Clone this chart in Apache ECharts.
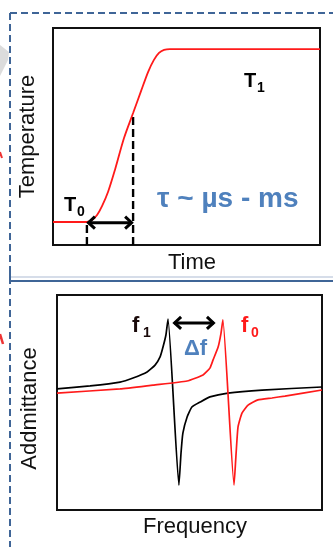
<!DOCTYPE html>
<html>
<head>
<meta charset="utf-8">
<script src="https://cdn.jsdelivr.net/npm/echarts@6/dist/echarts.min.js"></script>
<style>
  html, body { margin: 0; padding: 0; background: #ffffff; }
  #chart { width: 333px; height: 547px; }
</style>
</head>
<body>
<div id="chart"></div>
<script>
// ---- Thermal step: temperature rise over time ----
const timePts = [0, 12.7, 14.6, 16.5, 18.4, 20.6, 23.2, 26.6, 30.0, 33.0, 35.6, 37.8, 39.7, 41.6, 43.8, 100];
const tempPts = [10.6, 10.6, 11.5, 13.8, 18.0, 24.4, 34.6, 49.3, 60.8, 71.0, 79.7, 85.3, 88.5, 89.9, 90.3, 90.3];
const tauStart = 12.7;
const tauEnd = 30.0;
const tempAtTauStart = 10.6;
const tempAtTauEnd = 60.8;
const tauArrowLevel = 10.3;

// ---- Resonance: admittance around f1 (heated) and f0 (reference) ----
const freqF1 = [0, 12.5, 23.8, 28.7, 34.0, 37.0, 38.9, 40.0, 41.1, 41.9, 46.0, 46.8, 47.5, 49.1, 50.9, 54.0, 57.7, 64.5, 77.4, 100];
const admF1  = [56.3, 57.7, 59.5, 61.4, 64.2, 67.4, 71.2, 75.8, 81.4, 88.8, 11.6, 26.5, 35.8, 43.3, 47.9, 50.2, 52.6, 54.4, 55.8, 57.2];
const freqF0 = [0, 23.8, 36.2, 49.1, 55.1, 57.7, 58.9, 60.8, 61.9, 62.6, 66.8, 67.5, 68.3, 69.8, 72.1, 75.8, 81.1, 86.0, 100];
const admF0  = [54.4, 56.3, 58.1, 60.0, 62.8, 66.0, 69.8, 75.8, 82.3, 88.4, 11.6, 24.7, 38.6, 45.1, 48.8, 51.2, 52.1, 53.0, 55.8];
const shiftArrow = [43.8, 59.6, 87.0];

const pairs = (xs, ys) => xs.map((x, i) => [x, ys[i]]);

const FONT = '"Liberation Sans", Arial, sans-serif';
const FRAME = '#3f6597';

// double-headed arrow between two x values at one y value
function arrowItem(params, api) {
  const a = api.coord([api.value(0), api.value(2)]);
  const b = api.coord([api.value(1), api.value(2)]);
  const h = 8;
  const st = { stroke: '#000', lineWidth: 3, fill: null, lineJoin: 'miter' };
  return {
    type: 'group',
    children: [
      { type: 'line', shape: { x1: a[0] + 1, y1: a[1], x2: b[0] - 1, y2: b[1] }, style: st },
      { type: 'polyline', shape: { points: [[a[0] + h, a[1] - h * 0.75], [a[0] + 1.5, a[1]], [a[0] + h, a[1] + h * 0.75]] }, style: st },
      { type: 'polyline', shape: { points: [[b[0] - h, b[1] - h * 0.75], [b[0] - 1.5, b[1]], [b[0] - h, b[1] + h * 0.75]] }, style: st }
    ]
  };
}

const hiddenAxis = {
  type: 'value', min: 0, max: 100,
  axisLine: { show: false }, axisTick: { show: false },
  axisLabel: { show: false }, splitLine: { show: false },
  nameLocation: 'middle',
  nameTextStyle: { fontFamily: FONT, fontSize: 22, color: '#111' }
};

const chart = echarts.init(document.getElementById('chart'), null, { renderer: 'canvas' });

chart.setOption({
  animation: false,
  backgroundColor: '#ffffff',
  grid: [
    { left: 53, top: 28, width: 267, height: 217, show: true, borderColor: '#111', borderWidth: 2, backgroundColor: 'transparent' },
    { left: 57, top: 295, width: 265, height: 215, show: true, borderColor: '#111', borderWidth: 2, backgroundColor: 'transparent' }
  ],
  xAxis: [
    Object.assign({}, hiddenAxis, { gridIndex: 0, name: 'Time', nameGap: 7,
      nameTextStyle: Object.assign({}, hiddenAxis.nameTextStyle, { padding: [0, 0, 0, 11] }) }),
    Object.assign({}, hiddenAxis, { gridIndex: 1, name: 'Frequency', nameGap: 6,
      nameTextStyle: Object.assign({}, hiddenAxis.nameTextStyle, { padding: [0, 0, 0, 11] }) })
  ],
  yAxis: [
    Object.assign({}, hiddenAxis, { gridIndex: 0, name: 'Temperature', nameGap: 14 }),
    Object.assign({}, hiddenAxis, { gridIndex: 1, name: 'Addmittance', nameGap: 16,
      nameTextStyle: Object.assign({}, hiddenAxis.nameTextStyle, { padding: [0, 12, 0, 0] }) })
  ],
  series: [
    {
      type: 'line', xAxisIndex: 0, yAxisIndex: 0,
      data: pairs(timePts, tempPts), smooth: 0.3, symbol: 'none',
      lineStyle: { color: '#ff1a1a', width: 1.8 }, silent: true, z: 3
    },
    {
      type: 'line', xAxisIndex: 0, yAxisIndex: 0,
      data: [[tauStart, 0], [tauStart, tempAtTauStart]], symbol: 'none',
      lineStyle: { color: '#000', width: 2.4, type: [8, 4] }, silent: true, z: 2
    },
    {
      type: 'line', xAxisIndex: 0, yAxisIndex: 0,
      data: [[tauEnd, 0], [tauEnd, tempAtTauEnd]], symbol: 'none',
      lineStyle: { color: '#000', width: 2.4, type: [8, 4] }, silent: true, z: 2
    },
    {
      type: 'custom', xAxisIndex: 0, yAxisIndex: 0,
      data: [[tauStart, tauEnd, tauArrowLevel]],
      encode: { x: [0, 1], y: 2 },
      renderItem: arrowItem, silent: true, z: 4
    },
    {
      type: 'line', xAxisIndex: 1, yAxisIndex: 1,
      data: pairs(freqF1, admF1), symbol: 'none', smooth: 0.15,
      lineStyle: { color: '#000', width: 1.7 }, silent: true, z: 3
    },
    {
      type: 'line', xAxisIndex: 1, yAxisIndex: 1,
      data: pairs(freqF0, admF0), symbol: 'none', smooth: 0.15,
      lineStyle: { color: '#ff1a1a', width: 1.7 }, silent: true, z: 3
    },
    {
      type: 'custom', xAxisIndex: 1, yAxisIndex: 1,
      data: [shiftArrow],
      encode: { x: [0, 1], y: 2 },
      renderItem: arrowItem, silent: true, z: 4
    }
  ],
  graphic: [
    // dashed outline of the upper panel
    { type: 'line', shape: { x1: 10, y1: 13, x2: 333, y2: 13 }, style: { stroke: FRAME, lineWidth: 2, lineDash: [7, 4] }, silent: true },
    { type: 'line', shape: { x1: 10, y1: 13, x2: 10, y2: 547 }, style: { stroke: FRAME, lineWidth: 2, lineDash: [7, 4] }, silent: true },
    { type: 'line', shape: { x1: 11, y1: 277, x2: 333, y2: 277 }, style: { stroke: '#c9d2e2', lineWidth: 1.5 }, silent: true },
    { type: 'line', shape: { x1: 10, y1: 281, x2: 333, y2: 281 }, style: { stroke: FRAME, lineWidth: 2 }, silent: true },
    { type: 'line', shape: { x1: 10, y1: 268, x2: 10, y2: 281 }, style: { stroke: FRAME, lineWidth: 2 }, silent: true },
    // edge fragments
    { type: 'polygon', shape: { points: [[0, 45], [9, 52], [8, 60], [0, 76]] }, style: { fill: '#dcdcdc' }, silent: true },
    { type: 'line', shape: { x1: 0, y1: 152, x2: 2, y2: 158 }, style: { stroke: '#e33', lineWidth: 2 }, silent: true },
    { type: 'line', shape: { x1: 0, y1: 334, x2: 3, y2: 344 }, style: { stroke: '#e33', lineWidth: 2.5 }, silent: true },
    // labels
    { type: 'text', left: 64, top: 195, style: { text: 'T', font: 'bold 20px ' + FONT, fill: '#000' }, silent: true },
    { type: 'text', left: 77, top: 205, style: { text: '0', font: 'bold 14px ' + FONT, fill: '#000' }, silent: true },
    { type: 'text', left: 244, top: 71, style: { text: 'T', font: 'bold 20px ' + FONT, fill: '#000' }, silent: true },
    { type: 'text', left: 257, top: 81, style: { text: '1', font: 'bold 14px ' + FONT, fill: '#000' }, silent: true },
    { type: 'text', left: 157, top: 185, style: { text: 'τ ~ µs - ms', font: 'bold 28px ' + FONT, fill: '#4f81bd' }, silent: true },
    { type: 'text', left: 132, top: 315, style: { text: 'f', font: 'bold 22px ' + FONT, fill: '#1a0a0a' }, silent: true },
    { type: 'text', left: 143, top: 326, style: { text: '1', font: 'bold 14px ' + FONT, fill: '#1a0a0a' }, silent: true },
    { type: 'text', left: 241, top: 315, style: { text: 'f', font: 'bold 22px ' + FONT, fill: '#ff1a1a' }, silent: true },
    { type: 'text', left: 251, top: 326, style: { text: '0', font: 'bold 14px ' + FONT, fill: '#ff1a1a' }, silent: true },
    { type: 'text', left: 184, top: 338, style: { text: 'Δf', font: 'bold 22px ' + FONT, fill: '#4f81bd' }, silent: true }
  ]
});
</script>
</body>
</html>
